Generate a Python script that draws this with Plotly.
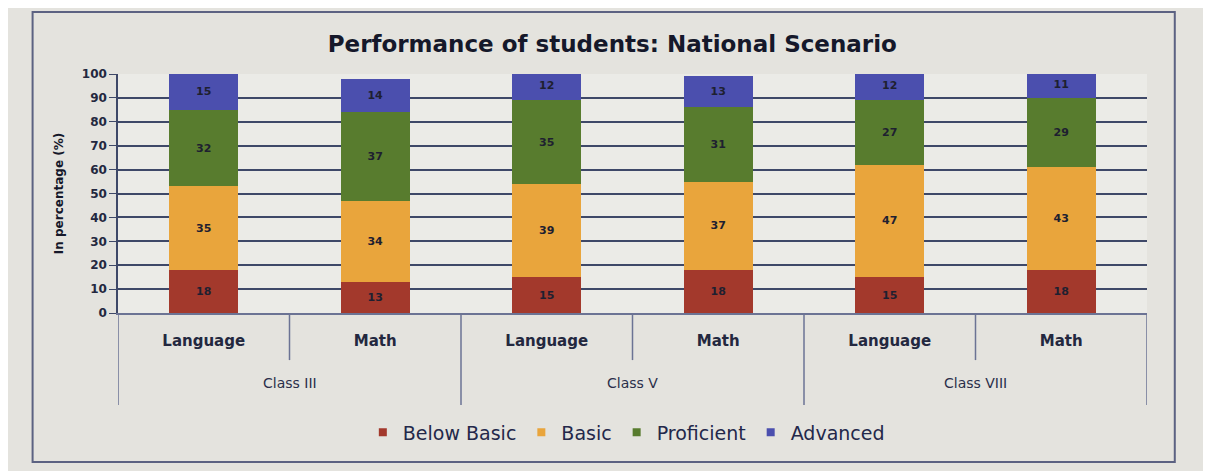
import plotly.graph_objects as go

classes = ["Class III", "Class V", "Class VIII"]
subjects = ["Language", "Math"]
below_basic = [18, 13, 15, 18, 15, 18]
basic = [35, 34, 39, 37, 47, 43]
proficient = [32, 37, 35, 31, 27, 29]
advanced = [15, 14, 12, 13, 12, 11]
series_names = ["Below Basic", "Basic", "Proficient", "Advanced"]
colors = ["#a3392c", "#e9a53c", "#587c2e", "#4b4fae"]
y_ticks = list(range(0, 101, 10))

tick_text = [s for c in classes for s in subjects]
x = list(range(len(tick_text)))

FONT = "DejaVu Sans"
fig = go.Figure()
for name, vals, col in zip(series_names, [below_basic, basic, proficient, advanced], colors):
    fig.add_trace(go.Bar(
        x=x, y=vals, name=name, marker=dict(color=col, line=dict(width=0)),
        width=0.4, text=vals, textposition="inside", insidetextanchor="middle",
        textangle=0, showlegend=False,
        textfont=dict(family=FONT, size=11, color="#1e2030", weight="bold"),
    ))
# legend entries with small square symbols
for name, col in zip(series_names, colors):
    fig.add_trace(go.Scatter(x=[None], y=[None], mode="markers", name=name,
                             marker=dict(symbol="square", size=8, color=col)))

shapes = []
shapes.append(dict(type="rect", xref="paper", yref="paper", x0=-0.083, x1=1.027, y0=-0.623, y1=1.259,
                   line=dict(color="#5c6282", width=2), fillcolor="rgba(0,0,0,0)", layer="below"))
for i in range(len(tick_text) + 1):
    xv = i - 0.5
    long = (i % 2 == 0)
    shapes.append(dict(type="line", xref="x", yref="paper", x0=xv, x1=xv, y0=0,
                       y1=-0.385 if long else -0.197,
                       line=dict(color="#6b7394", width=1.5)))

annotations = []
for j, c in enumerate(classes):
    annotations.append(dict(x=2 * j + 0.5, y=-0.293, xref="x", yref="paper", text=c, showarrow=False,
                            xanchor="center", yanchor="middle",
                            font=dict(family=FONT, size=14, color="#2a2f4a")))

fig.update_layout(
    width=1211, height=471,
    margin=dict(l=110, r=72, t=66, b=166),
    barmode="stack",
    paper_bgcolor="#e4e3de", plot_bgcolor="#ebebe7",
    title=dict(text="Performance of students: National Scenario", x=0.499, xanchor="center",
               y=0.924, yanchor="middle",
               font=dict(family=FONT, size=23, color="#15182a", weight="bold")),
    xaxis=dict(range=[-0.5, 5.5], tickvals=x, ticktext=tick_text, showgrid=False,
               showline=True, linecolor="#6b7394", linewidth=1.5, ticks="",
               ticklabelstandoff=13,
               tickfont=dict(family=FONT, size=15, color="#23283f", weight="bold")),
    yaxis=dict(range=[0, 100], tickvals=y_ticks, showgrid=True, gridcolor="#3e4868", gridwidth=1.5,
               showline=True, linecolor="#3e4868", linewidth=1.5, ticks="outside", ticklen=7,
               tickcolor="#3e4868", zeroline=False,
               tickfont=dict(family=FONT, size=12, color="#23283f", weight="bold"),
               title=dict(text="In percentage (%)", standoff=16,
                          font=dict(family=FONT, size=12, color="#15182a", weight="bold"))),
    legend=dict(orientation="h", x=0.494, xanchor="center", y=-0.5, yanchor="middle",
                bgcolor="rgba(0,0,0,0)", traceorder="normal", itemwidth=30,
                font=dict(family=FONT, size=19, color="#23284a")),
    shapes=shapes, annotations=annotations,
    bargap=0.6,
)

fig.write_html("out.html")
